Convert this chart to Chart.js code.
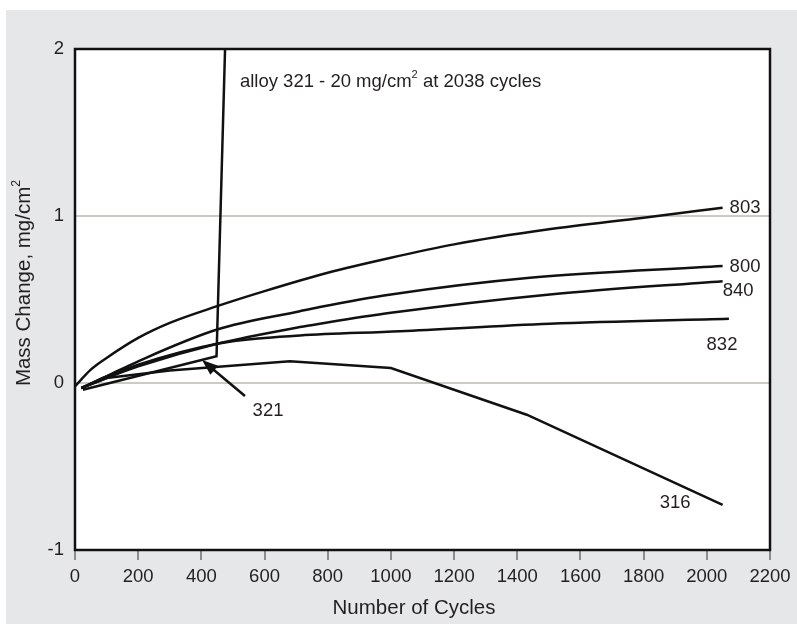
<!DOCTYPE html>
<html>
<head>
<meta charset="utf-8">
<script src="https://cdn.jsdelivr.net/npm/chart.js@4/dist/chart.umd.min.js"></script>
<style>
  html, body { margin: 0; padding: 0; background: #fff; }
  #wrap { width: 797px; height: 624px; }
</style>
</head>
<body>
<div id="wrap"><canvas id="chart" width="797" height="624"></canvas></div>
<script>
// axis ticks
const X_TICKS = [0, 200, 400, 600, 800, 1000, 1200, 1400, 1600, 1800, 2000, 2200];
const Y_TICKS = [-1, 0, 1, 2];

// alloy curves (cycles, mg/cm2)
const X_803 = [0, 50, 100, 200, 300, 450, 600, 800, 1000, 1200, 1500, 1800, 2050];
const Y_803 = [-0.02, 0.08, 0.15, 0.27, 0.36, 0.46, 0.55, 0.66, 0.75, 0.83, 0.92, 0.99, 1.05];

const X_800 = [20, 100, 200, 450, 712, 775, 1000, 1440, 2050];
const Y_800 = [-0.03, 0.04, 0.13, 0.32, 0.43, 0.455, 0.53, 0.63, 0.70];

const X_840 = [20, 100, 200, 450, 712, 775, 1000, 1503, 2050];
const Y_840 = [-0.03, 0.03, 0.1, 0.235, 0.335, 0.355, 0.42, 0.53, 0.61];

const X_832 = [20, 100, 200, 450, 600, 712, 1029, 1503, 2070];
const Y_832 = [-0.03, 0.04, 0.11, 0.235, 0.27, 0.285, 0.31, 0.355, 0.385];

const X_316 = [20, 100, 300, 680, 1000, 1430, 2050];
const Y_316 = [-0.03, 0.03, 0.075, 0.13, 0.09, -0.19, -0.73];

const X_321 = [25, 448, 475];
const Y_321 = [-0.04, 0.16, 2.0];

// curve labels
const LABEL_TEXT = ['803', '800', '840', '832', '316', '321'];
const LABEL_X    = [2121, 2121, 2099, 2048, 1900, 611];
const LABEL_Y    = [1.05, 0.695, 0.55, 0.23, -0.72, -0.17];

// arrow pointing at alloy 321
const ARROW_FROM = [538, -0.078];
const ARROW_TO   = [402, 0.138];

// note at the top
const NOTE_PARTS = [['alloy 321 - 20 mg/cm', false], ['2', true], [' at 2038 cycles', false]];
const NOTE_POS   = [522, 1.8];

const FONT = '"Liberation Sans", Arial, Helvetica, sans-serif';
const TEXT = '#231f20';

const toPts = (xs, ys) => xs.map((x, i) => ({ x: x, y: ys[i] }));

function lineSet(label, xs, ys, smooth) {
  return {
    label: label,
    data: toPts(xs, ys),
    borderColor: '#111',
    borderWidth: 2.5,
    pointRadius: 0,
    fill: false,
    cubicInterpolationMode: smooth ? 'monotone' : 'default',
    tension: 0
  };
}

function drawParts(ctx, parts, x, y, size) {
  let cx = x;
  parts.forEach(([t, sup]) => {
    ctx.font = (sup ? size * 0.6 : size) + 'px ' + FONT;
    ctx.fillText(t, cx, sup ? y - size * 0.38 : y);
    cx += ctx.measureText(t).width;
  });
}

function partsWidth(ctx, parts, size) {
  let w = 0;
  parts.forEach(([t, sup]) => {
    ctx.font = (sup ? size * 0.6 : size) + 'px ' + FONT;
    w += ctx.measureText(t).width;
  });
  return w;
}

const framePlugin = {
  id: 'frame',
  beforeDraw(chart) {
    const { ctx, chartArea: a } = chart;
    ctx.save();
    ctx.fillStyle = '#e6e7e9';
    ctx.fillRect(6, 10, 791, 614);
    ctx.fillStyle = '#fff';
    ctx.fillRect(a.left, a.top, a.right - a.left, a.bottom - a.top);
    ctx.restore();
  },
  afterDatasetsDraw(chart) {
    const { ctx, chartArea: a, scales } = chart;
    const xs = scales.x, ys = scales.y;
    ctx.save();

    // plot frame
    ctx.strokeStyle = '#111';
    ctx.lineWidth = 2.5;
    ctx.strokeRect(a.left, a.top, a.right - a.left, a.bottom - a.top);

    // arrow
    const x1 = xs.getPixelForValue(ARROW_FROM[0]), y1 = ys.getPixelForValue(ARROW_FROM[1]);
    const x2 = xs.getPixelForValue(ARROW_TO[0]),   y2 = ys.getPixelForValue(ARROW_TO[1]);
    const ang = Math.atan2(y2 - y1, x2 - x1);
    const hl = 16, hw = 6;
    ctx.lineWidth = 2.5;
    ctx.beginPath();
    ctx.moveTo(x1, y1);
    ctx.lineTo(x2 - Math.cos(ang) * hl * 0.8, y2 - Math.sin(ang) * hl * 0.8);
    ctx.stroke();
    ctx.fillStyle = '#111';
    ctx.beginPath();
    ctx.moveTo(x2, y2);
    ctx.lineTo(x2 - Math.cos(ang) * hl - Math.sin(ang) * hw, y2 - Math.sin(ang) * hl + Math.cos(ang) * hw);
    ctx.lineTo(x2 - Math.cos(ang) * hl + Math.sin(ang) * hw, y2 - Math.sin(ang) * hl - Math.cos(ang) * hw);
    ctx.closePath();
    ctx.fill();

    // curve labels
    ctx.fillStyle = TEXT;
    ctx.font = '18.5px ' + FONT;
    ctx.textAlign = 'center';
    ctx.textBaseline = 'middle';
    LABEL_TEXT.forEach((t, i) => {
      ctx.fillText(t, xs.getPixelForValue(LABEL_X[i]), ys.getPixelForValue(LABEL_Y[i]));
    });

    // note
    ctx.textAlign = 'left';
    drawParts(ctx, NOTE_PARTS, xs.getPixelForValue(NOTE_POS[0]), ys.getPixelForValue(NOTE_POS[1]), 18.5);
    ctx.restore();
  },
  afterDraw(chart) {
    const { ctx } = chart;
    ctx.save();
    ctx.fillStyle = TEXT;
    ctx.textBaseline = 'middle';
    ctx.textAlign = 'left';

    // x title
    ctx.font = '20.5px ' + FONT;
    const xt = 'Number of Cycles';
    ctx.fillText(xt, 414 - ctx.measureText(xt).width / 2, 608);

    // y title, rotated
    const yParts = [['Mass Change, mg/cm', false], ['2', true]];
    const w = partsWidth(ctx, yParts, 20.5);
    ctx.translate(24, 283);
    ctx.rotate(-Math.PI / 2);
    drawParts(ctx, yParts, -w / 2, 0, 20.5);
    ctx.restore();
  }
};

new Chart(document.getElementById('chart'), {
  type: 'line',
  data: {
    datasets: [
      lineSet('803', X_803, Y_803, true),
      lineSet('800', X_800, Y_800, true),
      lineSet('840', X_840, Y_840, true),
      lineSet('832', X_832, Y_832, true),
      lineSet('316', X_316, Y_316, false),
      lineSet('321', X_321, Y_321, false)
    ]
  },
  options: {
    responsive: false,
    animation: false,
    devicePixelRatio: 1,
    layout: { padding: { top: 49, right: 27, left: 0, bottom: 0 } },
    plugins: { legend: { display: false }, tooltip: { enabled: false } },
    scales: {
      x: {
        type: 'linear',
        min: X_TICKS[0],
        max: X_TICKS[X_TICKS.length - 1],
        afterBuildTicks: s => { s.ticks = X_TICKS.map(v => ({ value: v })); },
        afterFit: s => { s.height = 74; },
        border: { display: false },
        grid: { drawOnChartArea: false, drawTicks: true, tickLength: 10, color: '#8c8c8c', lineWidth: 2 },
        ticks: {
          font: { family: FONT, size: 18.5 }, color: TEXT, padding: 6, maxRotation: 0, autoSkip: false,
          callback: v => String(v)
        }
      },
      y: {
        type: 'linear',
        min: Y_TICKS[0],
        max: Y_TICKS[Y_TICKS.length - 1],
        afterBuildTicks: s => { s.ticks = Y_TICKS.map(v => ({ value: v })); },
        afterFit: s => { s.width = 75; },
        border: { display: false },
        grid: {
          drawTicks: false,
          lineWidth: 2,
          color: c => (c.tick && (c.tick.value === 0 || c.tick.value === 1)) ? '#cdc9c5' : 'rgba(0,0,0,0)'
        },
        ticks: { font: { family: FONT, size: 18.5 }, color: TEXT, padding: 11, callback: v => String(v) }
      }
    }
  },
  plugins: [framePlugin]
});
</script>
</body>
</html>
